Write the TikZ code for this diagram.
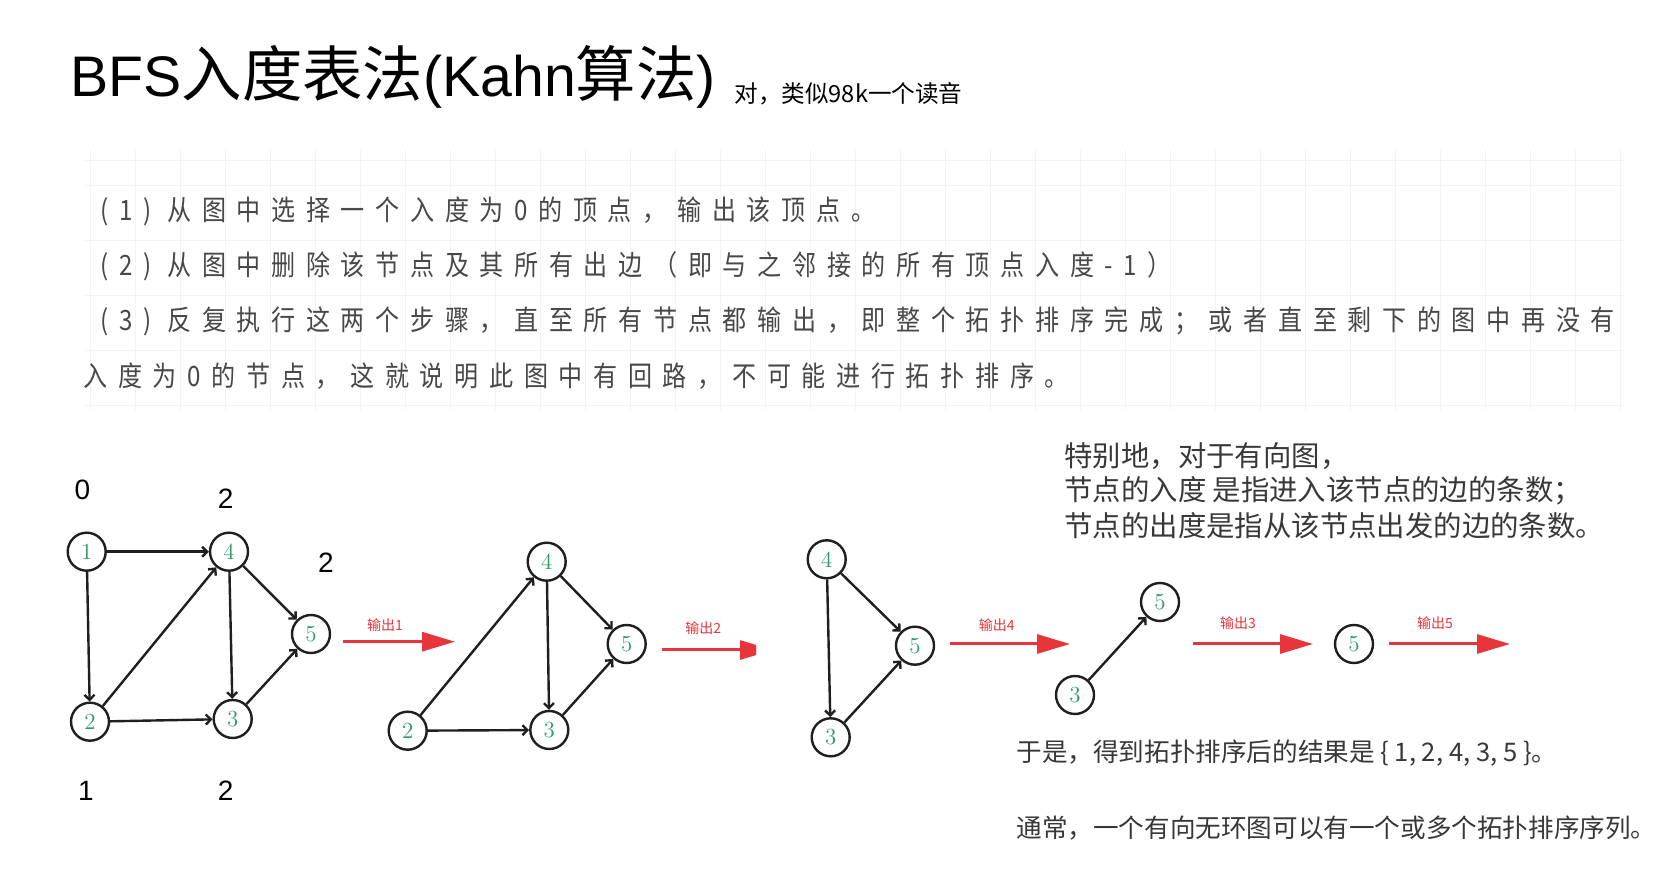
\documentclass[tikz,border=0pt]{standalone}
\usepackage{fontspec}
\usetikzlibrary{arrows.meta}
\newfontfamily\cjk{Noto Sans CJK SC}
\newfontfamily\cjksp[LetterSpace=38,FakeStretch=0.86]{Noto Sans CJK SC}
\newfontfamily\sans{Liberation Sans}
\definecolor{vgreen}{HTML}{2E9A6A}
\definecolor{outred}{HTML}{E8353A}
\definecolor{bodytext}{HTML}{484848}
\definecolor{notetext}{HTML}{383838}
\definecolor{gridc}{HTML}{F3F3F3}
\newcommand{\ttlatin}{\sans\fontsize{28.6}{31}\selectfont}
\newcommand{\ttcjk}{\cjk\fontsize{30.2}{31}\selectfont}
\tikzset{
  vtx/.style={circle, draw=black!88, line width=1.2pt, minimum size=19pt, inner sep=0pt,
    fill=white, text=vgreen, font=\normalfont\fontsize{11.5}{12}\selectfont},
  edge/.style={line width=1.2pt, draw=black!88, -{Straight Barb[length=2.5pt,width=5pt]}},
  outarrow/.style={line width=1.5pt, draw=outred, -{Triangle[length=16.5pt,width=9.5pt]}},
  outlabel/.style={inner sep=0pt, text=outred, font=\cjk\fontsize{7}{8}\selectfont},
  degree/.style={inner sep=0pt, font=\sans\fontsize{14}{16}\selectfont},
  bodyline/.style={anchor=west, inner sep=0pt, text=bodytext, font=\cjksp\fontsize{14}{16}\selectfont},
  noteline/.style={anchor=west, inner sep=0pt, text=notetext, font=\cjk\fontsize{14.2}{16}\selectfont},
  resline/.style={anchor=west, inner sep=0pt, text=notetext, font=\cjk\fontsize{12.8}{15}\selectfont},
}
\begin{document}
\begin{tikzpicture}[x=0.5pt,y=-0.5pt]
\useasboundingbox (0,0) rectangle (1680,886);
\fill[white] (0,0) rectangle (1680,886);

% faint ruled background behind the step list
\foreach \gx in {90,135,...,1620} \draw[gridc, line width=0.3pt] (\gx,150) -- (\gx,410);
\foreach \gy in {160,185,240,295,350,405} \draw[gridc, line width=0.3pt] (85,\gy) -- (1625,\gy);

% heading
\node[anchor=base west, inner sep=0pt] (title) at (70,97)
  {\ttlatin BFS\ttcjk 入度表法\ttlatin (Kahn\ttcjk 算法\ttlatin )};
\node[anchor=west, inner sep=0pt, font=\cjk\fontsize{11.8}{13}\selectfont] (subtitle) at (734,94)
  {对，类似98k一个读音};

% algorithm steps
\node[bodyline] (s1) at (100,211) {(1) 从图中选择一个入度为0的顶点，输出该顶点。};
\node[bodyline] (s2) at (100,266) {(2) 从图中删除该节点及其所有出边（即与之邻接的所有顶点入度-1）};
\node[bodyline] (s3) at (100,321) {(3) 反复执行这两个步骤，直至所有节点都输出，即整个拓扑排序完成；或者直至剩下的图中再没有};
\node[bodyline] (s4) at (83,376) {入度为0的节点，这就说明此图中有回路，不可能进行拓扑排序。};

% notes
\node[noteline] (n1) at (1064,456) {特别地，对于有向图，};
\node[noteline] (n2) at (1064,491) {节点的入度 是指进入该节点的边的条数；};
\node[noteline] (n3) at (1064,526) {节点的出度是指从该节点出发的边的条数。};
\node[resline] (r1) at (1016,753) {于是，得到拓扑排序后的结果是 \{ 1, 2, 4, 3, 5 \}。};
\node[resline] (r2) at (1016,828) {通常，一个有向无环图可以有一个或多个拓扑排序序列。};

% graph 0: full DAG with in-degrees
\node[vtx] (a1) at (86.7,551.7) {1};
\node[vtx] (a4) at (229,551.7) {4};
\node[vtx] (a2) at (90,721.7) {2};
\node[vtx] (a3) at (232.7,719) {3};
\node[vtx] (a5) at (311,634) {5};
\draw[edge] (a1) -- (a4);
\draw[edge] (a1) -- (a2);
\draw[edge] (a2) -- (a4);
\draw[edge] (a2) -- (a3);
\draw[edge] (a4) -- (a3);
\draw[edge] (a4) -- (a5);
\draw[edge] (a3) -- (a5);
\node[degree] (d1) at (82.3,490) {0};
\node[degree] (d4) at (225.7,499) {2};
\node[degree] (d5) at (326,563) {2};
\node[degree] (d2) at (86,791) {1};
\node[degree] (d3) at (225.7,791) {2};

% output 1
\coordinate (o1s) at (342.7,641.7);
\coordinate (o1e) at (455,641.7);
\draw[outarrow] (o1s) -- (o1e);
\node[outlabel] (l1) at (385,625) {输出1};

% graph 1
\node[vtx] (b4) at (546.7,561.7) {4};
\node[vtx] (b5) at (626.7,644) {5};
\node[vtx] (b2) at (407.7,730.7) {2};
\node[vtx] (b3) at (549.3,730) {3};
\draw[edge] (b2) -- (b4);
\draw[edge] (b2) -- (b3);
\draw[edge] (b4) -- (b3);
\draw[edge] (b4) -- (b5);
\draw[edge] (b3) -- (b5);

% output 2 (head cut at the frame edge)
\coordinate (o2s) at (661.7,650);
\coordinate (o2e) at (773,650);
\begin{scope}
  \clip (640,600) rectangle (756,700);
  \draw[outarrow] (o2s) -- (o2e);
\end{scope}
\node[outlabel] (l2) at (703.3,628.3) {输出2};

% graph 2
\node[vtx] (c4) at (826.7,559.3) {4};
\node[vtx] (c5) at (915,645.7) {5};
\node[vtx] (c3) at (830.7,737.3) {3};
\draw[edge] (c4) -- (c3);
\draw[edge] (c4) -- (c5);
\draw[edge] (c3) -- (c5);

% output 4
\coordinate (o4s) at (950,644);
\coordinate (o4e) at (1070,644);
\draw[outarrow] (o4s) -- (o4e);
\node[outlabel] (l4) at (996.7,625) {输出4};

% graph 3
\node[vtx] (e3) at (1075,695) {3};
\node[vtx] (e5) at (1160,602) {5};
\draw[edge] (e3) -- (e5);

% output 3
\coordinate (o3s) at (1193,644);
\coordinate (o3e) at (1313,644);
\draw[outarrow] (o3s) -- (o3e);
\node[outlabel] (l3) at (1238,623) {输出3};

% graph 4
\node[vtx] (f5) at (1354,644) {5};

% output 5
\coordinate (o5s) at (1389,644);
\coordinate (o5e) at (1510,644);
\draw[outarrow] (o5s) -- (o5e);
\node[outlabel] (l5) at (1435,623) {输出5};
\end{tikzpicture}
\end{document}
